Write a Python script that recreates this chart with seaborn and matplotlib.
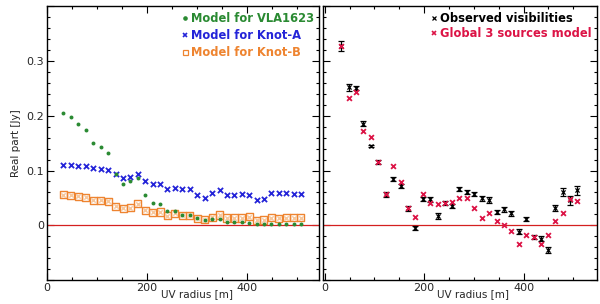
import matplotlib
matplotlib.use("Agg")
import matplotlib.pyplot as plt
from matplotlib.lines import Line2D
from matplotlib.ticker import MultipleLocator
import seaborn as sns
import pandas as pd

uv = [33, 48, 63, 78, 93, 108, 123, 138, 153, 167, 182, 197, 212, 227, 241, 256,
      271, 286, 301, 316, 331, 346, 360, 375, 390, 405, 420, 434, 449, 464, 479, 494, 508]

vla1623 = [0.2055, 0.198, 0.185, 0.175, 0.151, 0.143, 0.132, 0.094, 0.076, 0.080, 0.0866,
           0.0545, 0.041, 0.038, 0.0254, 0.0254, 0.0194, 0.018, 0.0127, 0.009, 0.011, 0.0115,
           0.006, 0.006, 0.006, 0.004, 0.002, 0.002, 0.002, 0.002, 0.002, 0.002, 0.002]

knot_a = [0.1109, 0.1102, 0.109, 0.1084, 0.1042, 0.103, 0.1018, 0.0939, 0.086, 0.0884, 0.0933,
          0.080, 0.0745, 0.0751, 0.0654, 0.0684, 0.066, 0.066, 0.0551, 0.0502, 0.0582, 0.0636,
          0.0551, 0.0557, 0.0569, 0.0557, 0.046, 0.0478, 0.0582, 0.0582, 0.0582, 0.0569, 0.0563]

knot_b = [0.0557, 0.0551, 0.0533, 0.0509, 0.046, 0.0454, 0.0436, 0.0345, 0.0309, 0.032, 0.0393,
          0.0272, 0.0236, 0.0242, 0.0175, 0.0218, 0.0181, 0.0181, 0.0127, 0.0102, 0.0145, 0.0187,
          0.0133, 0.0133, 0.0133, 0.0157, 0.009, 0.0096, 0.0139, 0.0127, 0.0139, 0.0139, 0.0139]

observed = [0.327, 0.252, 0.251, 0.1855, 0.1448, 0.1157, 0.056, 0.0848, 0.0712, 0.0309, -0.0049,
            0.0478, 0.0473, 0.0175, 0.0406, 0.035, 0.066, 0.0611, 0.0569, 0.049, 0.0455, 0.0242,
            0.029, 0.0218, -0.0116, 0.0109, -0.0213, -0.0243, -0.0449, 0.031, 0.0611, 0.0455, 0.0642]

observed_err = [0.0094, 0.006, 0.004, 0.0048, 0.002, 0.0042, 0.004, 0.0036, 0.004, 0.004, 0.0036,
                0.003, 0.0045, 0.0055, 0.0036, 0.0033, 0.004, 0.0042, 0.0036, 0.005, 0.0055, 0.0045,
                0.0048, 0.0045, 0.0042, 0.0036, 0.0042, 0.0048, 0.006, 0.0055, 0.007, 0.0088, 0.008]

global_model = [0.3278, 0.2333, 0.243, 0.172, 0.161, 0.1151, 0.0563, 0.1078, 0.0787, 0.0309, 0.0151,
                0.0563, 0.0406, 0.0393, 0.0411, 0.043, 0.0496, 0.0496, 0.032, 0.0139, 0.023, 0.0072,
                -0.0001, -0.0098, -0.0334, -0.0182, -0.0207, -0.0345, -0.017, 0.0078, 0.0218, 0.0473, 0.0448]

labels_left = ["Model for VLA1623", "Model for Knot-A", "Model for Knot-B"]
labels_right = ["Observed visibilities", "Global 3 sources model"]

GREEN = "#2a8a32"
BLUE = "#2424d8"
ORANGE = "#ee8430"
CRIMSON = "#dc1446"
RED = "#d42020"

sns.set_style("ticks")
plt.rcParams["font.family"] = ["DejaVu Sans"]

df = pd.DataFrame({"uv": uv, "vla": vla1623, "ka": knot_a, "kb": knot_b,
                   "obs": observed, "err": observed_err, "glob": global_model})

fig = plt.figure(figsize=(6.0, 3.04), dpi=100)
ax1 = fig.add_axes([0.0778, 0.079, 0.4543, 0.900])
ax2 = fig.add_axes([0.5378, 0.079, 0.4567, 0.900])

# Left panel
sns.scatterplot(data=df, x="uv", y="kb", ax=ax1, marker="s", s=26, facecolor="none",
                edgecolor=ORANGE, linewidth=1.0, zorder=3)
sns.scatterplot(data=df, x="uv", y="kb", ax=ax1, marker="x", s=10, color="#f6c79c",
                linewidth=1.0, zorder=3)
sns.scatterplot(data=df, x="uv", y="ka", ax=ax1, marker="x", s=14, color=BLUE,
                linewidth=1.3, zorder=4)
sns.scatterplot(data=df, x="uv", y="vla", ax=ax1, marker="o", s=8, color=GREEN,
                edgecolor=GREEN, linewidth=0, zorder=5)

# Right panel
ax2.errorbar(df["uv"], df["obs"], yerr=df["err"], fmt="none", ecolor="black",
             elinewidth=0.9, capsize=2.0, capthick=0.9, zorder=3)
sns.scatterplot(data=df, x="uv", y="obs", ax=ax2, marker="x", s=9, color="black",
                linewidth=0.9, zorder=4)
sns.scatterplot(data=df, x="uv", y="glob", ax=ax2, marker="x", s=12, color=CRIMSON,
                linewidth=1.3, zorder=5)

for ax in (ax1, ax2):
    ax.axhline(0, color=RED, lw=0.9, zorder=2)
    ax.yaxis.set_minor_locator(MultipleLocator(0.02))
    ax.xaxis.set_major_locator(MultipleLocator(200))
    ax.xaxis.set_minor_locator(MultipleLocator(50))
    ax.tick_params(which="both", direction="in", top=True, right=True,
                   labelsize=8, pad=2, width=0.8, color="black")
    ax.tick_params(which="major", length=5)
    ax.tick_params(which="minor", length=2.5)
    for sp in ax.spines.values():
        sp.set_linewidth(1.0)
        sp.set_color("black")
    ax.set_xlabel("UV radius [m]", fontsize=7.5)
    ax.xaxis.set_label_coords(0.55, -0.035)
    ax.set_yticks([-0.1, 0.0, 0.1, 0.2, 0.3, 0.4])
    ax.set_yticklabels(["", "0", "0.1", "0.2", "0.3", ""])
    ax.set_ylim(-0.1, 0.4)

ax1.set_xlim(0, 545)
ax2.set_xlim(-4, 547)
ax1.set_ylabel("Real part [Jy]", fontsize=7.5, labelpad=4)
ax2.set_ylabel("")
ax2.tick_params(labelleft=False)

legend_font = {"weight": "bold", "size": 8.3}
h_left = [
    Line2D([], [], ls="none", marker="o", ms=2.3, color=GREEN),
    Line2D([], [], ls="none", marker="x", ms=3.2, mew=1.2, color=BLUE),
    Line2D([], [], ls="none", marker="s", ms=3.6, mfc="none", mec=ORANGE, mew=0.9),
]
leg1 = ax1.legend(h_left, labels_left, loc="upper right", frameon=False, prop=legend_font,
                  labelcolor=[GREEN, BLUE, ORANGE], handlelength=0.5, handletextpad=0.3,
                  borderaxespad=0.25, labelspacing=0.38, borderpad=0.2)

h_right = [
    Line2D([], [], ls="none", marker="x", ms=3, mew=0.9, color="black"),
    Line2D([], [], ls="none", marker="x", ms=3, mew=1.2, color=CRIMSON),
]
leg2 = ax2.legend(h_right, labels_right, loc="upper right", frameon=False, prop=legend_font,
                  labelcolor=["black", CRIMSON], handlelength=0.5, handletextpad=0.3,
                  borderaxespad=0.25, labelspacing=0.2, borderpad=0.2)

fig.savefig("out.png", dpi=100)
